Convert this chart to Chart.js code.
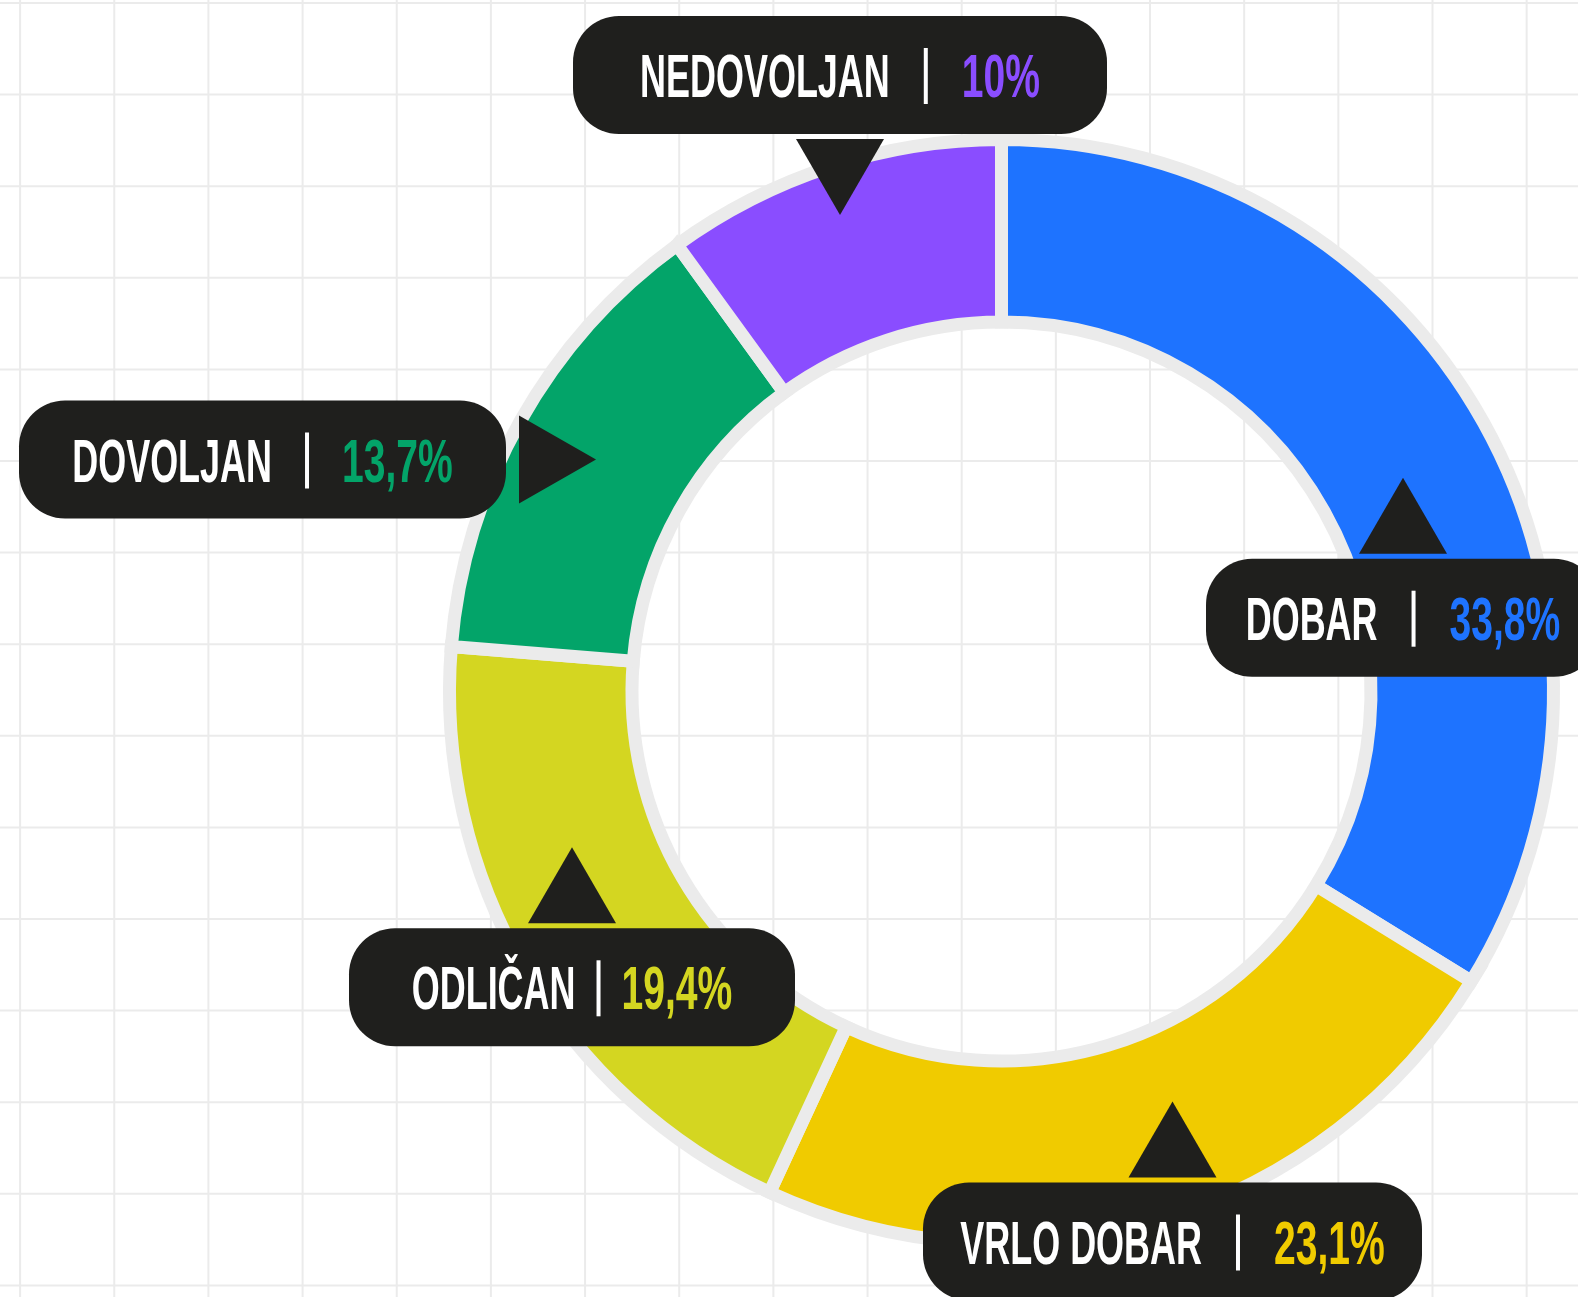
<!DOCTYPE html>
<html><head><meta charset="utf-8">
<script src="https://cdn.jsdelivr.net/npm/chart.js@4.4.1/dist/chart.umd.min.js"></script>
<style>html,body{margin:0;padding:0;background:#fff;overflow:hidden}#wrap{position:relative;width:1578px;height:1297px}</style>
</head><body><div id="wrap"><canvas id="c" width="1578" height="1297"></canvas></div>
<script>
// ---- data ----
const categories = ['DOBAR', 'VRLO DOBAR', 'ODLIČAN', 'DOVOLJAN', 'NEDOVOLJAN'];
const shares = [33.8, 23.1, 19.4, 13.7, 10];
const segmentColors = ['#1e73ff', '#f0cb00', '#d4d621', '#03a469', '#8a4dff'];

// ---- callout layout (styling only) ----
const calloutLayout = [
  {cx: 1403, cy: 617.7, w: 394, dir: 'up', gap: 34},
  {cx: 1172.5, cy: 1241.5, w: 499, dir: 'up', gap: 34},
  {cx: 572, cy: 987.3, w: 446, dir: 'up', gap: 21},
  {cx: 262.5, cy: 459.5, w: 487, dir: 'right', gap: 33},
  {cx: 840, cy: 75, w: 534, dir: 'down', gap: 34}
];

const BOX_H = 118, BOX_R = 46, DARK = '#1f1f1d';
const FONT = 'bold 62px "Liberation Sans", Arial, sans-serif';
const CAP = 44, SX_LABEL = 0.58, SX_VALUE = 0.63;

const gridPlugin = {
  id: 'grid',
  beforeDraw(chart) {
    const ctx = chart.ctx, W = chart.width, H = chart.height;
    ctx.save();
    ctx.fillStyle = '#fff';
    ctx.fillRect(0, 0, W, H);
    ctx.strokeStyle = '#ebebeb';
    ctx.lineWidth = 2;
    ctx.beginPath();
    for (let x = 20.1; x < W; x += 94.16) { ctx.moveTo(x, 0); ctx.lineTo(x, H); }
    for (let y = 3; y < H; y += 91.6) { ctx.moveTo(0, y); ctx.lineTo(W, y); }
    ctx.stroke();
    ctx.restore();
  }
};

function fmt(v) { return String(v).replace('.', ',') + '%'; }

const calloutPlugin = {
  id: 'callouts',
  afterDraw(chart) {
    const ctx = chart.ctx;
    ctx.save();
    calloutLayout.forEach((L, i) => {
      const x0 = L.cx - L.w / 2, y0 = L.cy - BOX_H / 2;
      ctx.fillStyle = DARK;
      ctx.beginPath();
      ctx.roundRect(x0, y0, L.w, BOX_H, BOX_R);
      ctx.fill();
      // pointer
      ctx.beginPath();
      if (L.dir === 'up') {
        const by = y0 - 5;
        ctx.moveTo(L.cx - 44, by); ctx.lineTo(L.cx + 44, by); ctx.lineTo(L.cx, by - 76);
      } else if (L.dir === 'down') {
        const by = y0 + BOX_H + 5;
        ctx.moveTo(L.cx - 44, by); ctx.lineTo(L.cx + 44, by); ctx.lineTo(L.cx, by + 76);
      } else {
        const bx = x0 + L.w + 13;
        ctx.moveTo(bx, L.cy - 44); ctx.lineTo(bx, L.cy + 44); ctx.lineTo(bx + 77, L.cy);
      }
      ctx.closePath();
      ctx.fill();
      // text
      ctx.font = FONT;
      ctx.textBaseline = 'alphabetic';
      ctx.textAlign = 'left';
      const label = categories[i], value = fmt(shares[i]);
      const wl = ctx.measureText(label).width * SX_LABEL;
      const wv = ctx.measureText(value).width * SX_VALUE;
      const barW = 4;
      const total = wl + L.gap + barW + L.gap + wv;
      let x = L.cx - total / 2;
      const base = L.cy + CAP / 2;
      ctx.fillStyle = '#ffffff';
      ctx.save(); ctx.translate(x, base); ctx.scale(SX_LABEL, 1); ctx.fillText(label, 0, 0); ctx.restore();
      x += wl + L.gap;
      ctx.fillRect(x, base - CAP - 5, barW, CAP + 12);
      x += barW + L.gap;
      ctx.fillStyle = segmentColors[i];
      ctx.save(); ctx.translate(x, base); ctx.scale(SX_VALUE, 1); ctx.fillText(value, 0, 0); ctx.restore();
    });
    ctx.restore();
  }
};

new Chart(document.getElementById('c').getContext('2d'), {
  type: 'doughnut',
  data: {
    labels: categories,
    datasets: [{
      data: shares,
      backgroundColor: segmentColors,
      borderColor: '#ebebeb',
      borderWidth: 13,
      borderJoinStyle: 'miter',
      hoverOffset: 0
    }]
  },
  options: {
    responsive: false,
    animation: false,
    events: [],
    radius: 552,
    cutout: '66.94%',
    layout: {padding: {left: 425, right: 0, top: 86, bottom: 0}},
    plugins: {legend: {display: false}, tooltip: {enabled: false}}
  },
  plugins: [gridPlugin, calloutPlugin]
});
</script>
</body></html>
